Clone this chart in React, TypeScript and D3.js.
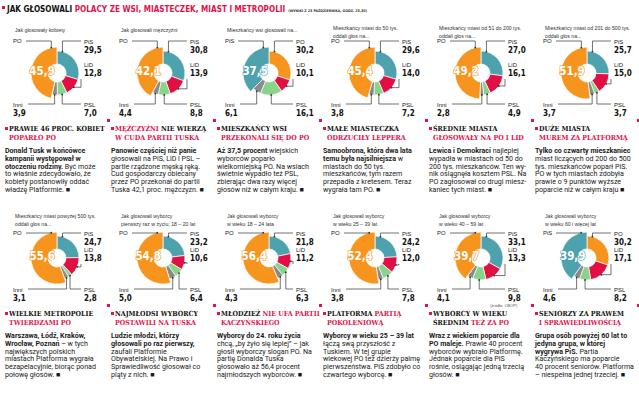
import * as d3 from "d3";

const W = 639;
const H = 397;

const partyColors: Record<string, string> = {
  PO: "#f7941d",
  PiS: "#4ea2ae",
  LiD: "#e20f45",
  PSL: "#88d488",
  Inni: "#8a8a8a",
};

const captions = [
  ["Jak głosowały kobiety"],
  ["Jak głosowali mężczyźni"],
  ["Mieszkańcy wsi głosowali na..."],
  ["Mieszkańcy miast do 50 tys.", "oddali głos na..."],
  ["Mieszkańcy miast od 51 do 200 tys.", "oddali głos na..."],
  ["Mieszkańcy miast od 201 do 500 tys.", "oddali głos na..."],
  ["Mieszkańcy miast powyżej 500 tys.", "oddali głos na..."],
  ["Jak głosowali wyborcy", "pierwszy raz w życiu, 18 – 20 lat"],
  ["Jak głosowali wyborcy", "w wieku 18 – 24 lata"],
  ["Jak głosowali wyborcy", "w wieku 25 – 39 lat"],
  ["Jak głosowali wyborcy", "w wieku 40 – 59 lat"],
  ["Jak głosowali wyborcy", "w wieku 60 i więcej lat"],
];

const winners = ["PO", "PO", "PiS", "PO", "PO", "PO", "PO", "PO", "PO", "PO", "PO", "PiS"];
const poValues = [45.9, 42.1, 30.2, 45.4, 49.2, 51.9, 55.6, 54.8, 56.4, 52.4, 39.7, 30.2];
const pisValues = [29.5, 30.8, 37.5, 29.6, 27.0, 25.7, 24.7, 23.2, 21.8, 24.2, 33.1, 39.9];
const lidValues = [12.8, 13.9, 10.1, 14.0, 16.1, 15.0, 13.8, 10.6, 11.2, 12.0, 13.3, 17.1];
const pslValues = [7.0, 8.8, 16.1, 7.2, 4.9, 3.7, 2.8, 6.4, 6.3, 7.8, 9.8, 8.2];
const inniValues = [3.9, 4.4, 6.1, 3.8, 2.8, 3.7, 3.1, 5.0, 4.3, 3.8, 4.1, 4.6];

// *...* = red part
const headlines = [
  ["PRAWIE 46 PROC. KOBIET", "*POPARŁO PO*"],
  ["*MĘŻCZYŹNI* NIE WIERZĄ", "*W CUDA PARTII TUSKA*"],
  ["MIESZKAŃCY WSI", "*PRZEKONALI SIĘ DO PO*"],
  ["MAŁE MIASTECZKA", "*ODRZUCIŁY LEPPERA*"],
  ["ŚREDNIE MIASTA", "*GŁOSOWAŁY NA PO I LID*"],
  ["DUŻE MIASTA", "*MUREM ZA PLATFORMĄ*"],
  ["WIELKIE METROPOLIE", "*TWIERDZAMI PO*"],
  ["NAJMŁODSI WYBORCY", "*POSTAWILI NA TUSKA*"],
  ["MŁODZIEŻ *NIE UFA PARTII*", "*KACZYŃSKIEGO*"],
  ["PLATFORMA *PARTIĄ*", "*POKOLENIOWĄ*"],
  ["WYBORCY W WIEKU", "ŚREDNIM *TEŻ ZA PO*"],
  ["SENIORZY ZA PRAWEM", "*I SPRAWIEDLIWOŚCIĄ*"],
];

// *...* = bold part
const bodies = [
  ["*Donald Tusk w końcówce*", "*kampanii występował w*", "*otoczeniu rodziny.* Być może", "to właśnie zdecydowało, że", "kobiety postanowiły oddać", "władzę Platformie. ■"],
  ["*Panowie częściej niż panie*", "głosowali na PiS, LiD i PSL –", "partie rządzone męską ręką.", "Cud gospodarczy obiecany", "przez PO przekonał do partii", "Tuska 42,1 proc. mężczyzn. ■"],
  ["*Aż 37,5 procent* wiejskich", "wyborców poparło", "wielkomiejską PO. Na wsiach", "świetnie wypadło też PSL,", "zbierając dwa razy więcej", "głosów niż w całym kraju. ■"],
  ["*Samoobrona, która dwa lata*", "*temu była najsilniejsza* w", "miastach do 50 tys.", "mieszkańców, tym razem", "przepadła z kretesem. Teraz", "wygrała tam PO. ■"],
  ["*Lewica i Demokraci* najlepiej", "wypadła w miastach od 50 do", "200 tys. mieszkańców. Ten wy-", "nik osiągnęła kosztem PSL. Na", "PO zagłosował co drugi miesz-", "kaniec tych miast. ■"],
  ["*Tylko co czwarty mieszkaniec*", "miast liczących od 200 do 500", "tys. mieszkańców poparł PiS.", "PO w tych miastach zdobyła", "prawie o 9 punktów wyższe", "poparcie niż w całym kraju ■"],
  ["*Warszawa, Łódź, Kraków,*", "*Wrocław, Poznań* – w tych", "największych polskich", "miastach Platforma wygrała", "bezapelacyjnie, biorąc ponad", "połowę głosów. ■"],
  ["*Ludzie młodzi, którzy*", "*głosowali po raz pierwszy,*", "zaufali Platformie", "Obywatelskiej. Na Prawo i", "Sprawiedliwość głosował co", "piąty z nich. ■"],
  ["*Wyborcy do 24. roku życia*", "chcą, „by żyło się lepiej” – jak", "głosił wyborczy slogan PO. Na", "partię Donalda Tuska", "głosowało aż 56,4 procent", "najmłodszych wyborców. ■"],
  ["*Wyborcy w wieku 25 – 39 lat*", "łączą swą przyszłość z", "Tuskiem. W tej grupie", "wiekowej PO też dzierży palmę", "pierwszeństwa. PiS zdobyło co", "czwartego wyborcę. ■"],
  ["*Wraz z wiekiem poparcie dla*", "*PO maleje.* Prawie 40 procent", "wyborców wybrało Platformę.", "Jednak poparcie dla PiS", "rośnie, osiągając jedną trzecią", "głosów. ■"],
  ["*Grupa osób powyżej 60 lat to*", "*jedyna grupa, w której*", "*wygrywa PiS.* Partia", "Kaczyńskiego ma poparcie", "40 procent seniorów. Platforma", "– niespełna jednej trzeciej. ■"],
];

const RED = "#e3124b";
const titleFont = "'Liberation Sans Narrow', 'DejaVu Sans Condensed', sans-serif";
const headFont = "'DejaVu Serif Condensed', 'DejaVu Serif', serif";
const bodyFont = "'Liberation Sans Narrow', 'Roboto', sans-serif";
const smallFont = "'Liberation Sans Narrow', 'Liberation Sans', sans-serif";

const fmt = (v: number) => v.toFixed(1).replace(".", ",");

function split(s: string) {
  return s.split("*").map((t, i) => ({ t, on: i % 2 === 1 })).filter(p => p.t.length > 0);
}

const colX = (c: number) => 5 + 106 * c;
const textY = (r: number) => 185 * r;

function Panel({ i }: { i: number }) {
  const col = i % 6;
  const row = Math.floor(i / 6);
  const x0 = colX(col);
  const y0 = textY(row);
  const cx = x0 + 52;
  const cy = row === 0 ? 73 : 258;
  const topDy = row === 0 ? -30 : -23;
  const botDy = row === 0 ? 34 : 34;

  const winner = winners[i];
  const runner = winner === "PO" ? "PiS" : "PO";
  const vals: Record<string, number> = {
    PO: poValues[i],
    PiS: pisValues[i],
    LiD: lidValues[i],
    PSL: pslValues[i],
    Inni: inniValues[i],
  };
  const order = [runner, "LiD", "PSL", "Inni", winner];
  const pie = d3.pie<string>().sort(null).value(p => vals[p]);
  const slices = pie(order);
  const rOut = (p: string) => (p === winner ? 26 : 22);
  const rIn = 9;
  const arc = d3.arc<d3.PieArcDatum<string>>()
    .innerRadius(rIn)
    .outerRadius(d => rOut(d.data));

  const leftX = x0 + 8;
  const rightX = x0 + 79;
  const pt = (a: number, r: number) => [cx + r * Math.sin(a), cy - r * Math.cos(a)];
  const byP: Record<string, d3.PieArcDatum<string>> = {};
  slices.forEach(s => (byP[s.data] = s));

  // leader lines
  const lines: string[] = [];
  const wa = byP[winner].endAngle - 0.22;
  const [wx, wy] = pt(wa, rOut(winner));
  lines.push(`M${leftX + 13},${cy + topDy - 2}H${wx}V${wy}`);
  const ra = byP[runner].startAngle + 0.25;
  const [rx, ry] = pt(ra, rOut(runner));
  lines.push(`M${rightX - 3},${cy + topDy - 2}H${rx}V${ry}`);
  const la = (byP.LiD.startAngle + byP.LiD.endAngle) / 2;
  const [lx, ly] = pt(la, rOut("LiD"));
  lines.push(`M${lx},${ly}H${rightX - 3}V${cy + 6}`);
  const pa = (byP.PSL.startAngle + byP.PSL.endAngle) / 2;
  const [px, py] = pt(pa, rOut("PSL"));
  lines.push(`M${px},${py}V${cy + botDy - 3}H${rightX - 3}`);
  const ia = (byP.Inni.startAngle + byP.Inni.endAngle) / 2;
  const [ix, iy] = pt(ia, rOut("Inni"));
  lines.push(`M${ix},${iy}V${cy + botDy - 3}H${leftX + 15}`);

  const [wcx] = pt((byP[winner].startAngle + byP[winner].endAngle) / 2, 15);

  const labelEl = (name: string, x: number, y: number, withVal: boolean) => (
    <g key={name}>
      <text x={x} y={y} fontFamily={smallFont} fontSize={6} fill="#222">{name}</text>
      {withVal && (
        <text x={x} y={y + 8.5} fontFamily={titleFont} fontWeight={700} fontSize={8} fill="#111">{fmt(vals[name])}</text>
      )}
    </g>
  );

  const capY = row === 0 ? (captions[i].length > 1 ? 30 : 32) : 218;

  return (
    <g>
      {captions[i].map((c, k) => (
        <text key={k} x={x0 + 10} y={capY + k * 7.5}
          fontFamily={smallFont} fontSize={5.2} fill="#333">{c}</text>
      ))}
      {slices.map(s => (
        <path key={s.data} d={arc(s) || ""} fill={partyColors[s.data]} stroke="#fff" strokeWidth={0.7}
          transform={`translate(${cx},${cy})`} />
      ))}
      <text x={wcx} y={cy + 2} textAnchor="middle" fontFamily={titleFont} fontWeight={700} fontSize={11.5}
        fill="#fff" stroke={partyColors[winner]} strokeWidth={1.2} paintOrder="stroke">
        {fmt(vals[winner])}
      </text>
      {lines.map((d, k) => (
        <path key={k} d={d} fill="none" stroke="#333" strokeWidth={0.7} />
      ))}
      {[[wx, wy], [rx, ry], [lx, ly], [px, py], [ix, iy]].map(([a, b], k) => (
        <circle key={k} cx={a} cy={b} r={0.9} fill="#333" />
      ))}
      {labelEl(winner, leftX, cy + topDy, false)}
      {labelEl(runner, rightX, cy + topDy + 1, true)}
      {labelEl("LiD", rightX, cy - 6, true)}
      {labelEl("PSL", rightX, cy + botDy, true)}
      {labelEl("Inni", leftX, cy + botDy, true)}

      <rect x={x0} y={y0 + 127} width={3} height={3} fill={RED} />
      {headlines[i].map((ln, k) => (
        <text key={k} x={x0 + 4} y={y0 + 131 + k * 8.5} fontFamily={headFont} fontWeight={700} fontSize={7}
          fill="#111">
          {split(ln).map((p, j) => (
            <tspan key={j} fill={p.on ? RED : "#111"}>{p.t}</tspan>
          ))}
        </text>
      ))}
      {bodies[i].map((ln, k) => (
        <text key={k} x={x0} y={y0 + 153 + k * 7.8} fontFamily={bodyFont} fontSize={7.1} fill="#1a1a1a">
          {split(ln).map((p, j) => (
            <tspan key={j} fontWeight={p.on ? 700 : 400}>{p.t}</tspan>
          ))}
        </text>
      ))}
    </g>
  );
}

export default function App() {
  const seps = d3.range(6).map(c => colX(c) + 102);
  return (
    <svg width={W} height={H} style={{ position: "absolute", left: 0, top: 0, background: "#fff" }}>
      <rect width={W} height={H} fill="#fff" />
      <rect x={2} y={6} width={3} height={3} fill={RED} />
      <text x={7} y={12} fontFamily={titleFont} fontWeight={700} fontSize={8.1} fill="#111">
        JAK GŁOSOWALI <tspan fill={RED}>POLACY ZE WSI, MIASTECZEK, MIAST I METROPOLII</tspan>
        <tspan fontSize={3.6} fill="#333" dx={3}>(WYNIKI Z 23 PAŹDZIERNIKA, GODZ. 23.30)</tspan>
      </text>
      {d3.range(12).map(i => <Panel key={i} i={i} />)}
      {[119, 304].map(y =>
        seps.map((x, k) => <rect key={`${y}-${k}`} x={x} y={y} width={3} height={3} fill={RED} />)
      )}
      <text x={490} y={307} fontFamily={smallFont} fontSize={4} fill="#555">(źródło: OBOP)</text>
    </svg>
  );
}
